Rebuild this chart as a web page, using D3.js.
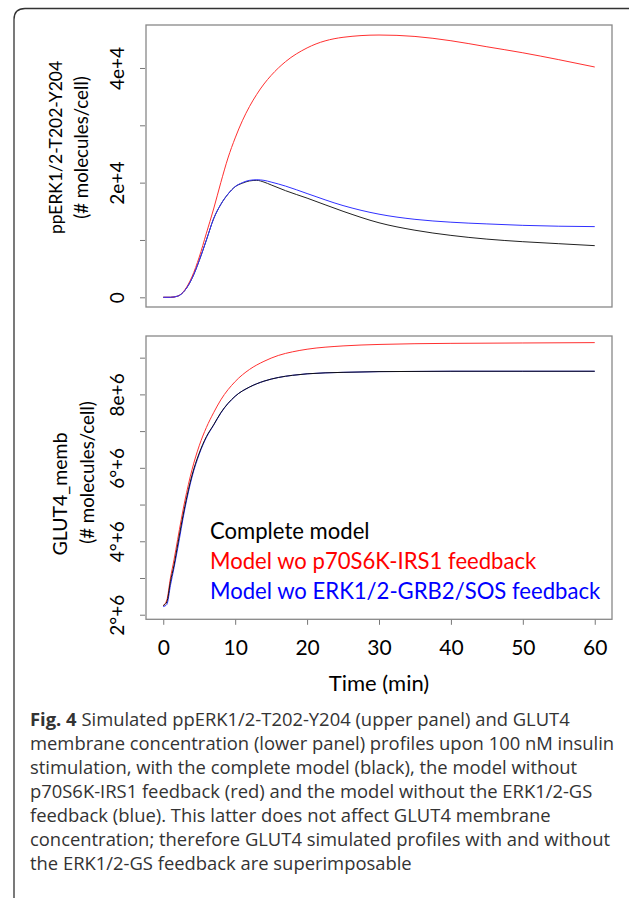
<!DOCTYPE html>
<html>
<head>
<meta charset="utf-8">
<script src="https://cdn.jsdelivr.net/npm/d3@7"></script>
<style>
  body { margin: 0; background: #fff; }
  .chart text { font-family: Lato, "Open Sans", sans-serif; }
  .chart text.caption { font-family: "Open Sans", sans-serif; fill: #333; font-size: 18.4px; }
</style>
</head>
<body>
<div id="root"></div>
<script>
// ---- data ----
const erkTime = [0, 1, 2, 3, 4, 5, 6, 7, 8, 9, 10, 11, 12, 13, 14, 15, 17, 20, 25, 30, 35, 40, 45, 50, 55, 60];
const erkComplete = [0, 0, 200, 1200, 3300, 6400, 10000, 13700, 16200, 18000, 19300, 19900, 20300, 20400, 20100, 19600, 18600, 17300, 15000, 13000, 11700, 10800, 10150, 9700, 9350, 9010];
const erkNoP70 = [0, 0, 200, 1300, 3600, 7000, 11200, 15400, 20000, 24300, 27800, 30800, 33300, 35400, 37200, 38700, 41100, 43500, 45350, 45750, 45500, 44750, 43700, 42650, 41450, 40170];
const erkNoGrb2 = [0, 0, 200, 1200, 3300, 6400, 10000, 13700, 16200, 18000, 19300, 20000, 20400, 20500, 20400, 20100, 19400, 18100, 16000, 14500, 13600, 13100, 12800, 12550, 12400, 12330];

const glutTime = [0, 0.5, 1, 1.5, 2, 3, 4, 5, 6, 7, 8, 10, 12, 14, 16, 18, 20, 25, 30, 40, 50, 60];
const glutComplete = [2.25e6, 2.35e6, 2.9e6, 3.35e6, 3.9e6, 4.95e6, 5.8e6, 6.4e6, 6.85e6, 7.17e6, 7.5e6, 7.95e6, 8.2e6, 8.36e6, 8.46e6, 8.52e6, 8.56e6, 8.6e6, 8.62e6, 8.63e6, 8.63e6, 8.63e6];
const glutNoP70 = [2.25e6, 2.4e6, 3.0e6, 3.5e6, 4.05e6, 5.1e6, 5.95e6, 6.6e6, 7.1e6, 7.5e6, 7.85e6, 8.35e6, 8.68e6, 8.9e6, 9.06e6, 9.16e6, 9.23e6, 9.32e6, 9.36e6, 9.39e6, 9.4e6, 9.41e6];
const glutNoGrb2 = [2.22e6, 2.28e6, 2.8e6, 3.28e6, 3.8e6, 4.88e6, 5.75e6, 6.37e6, 6.83e6, 7.16e6, 7.49e6, 7.95e6, 8.2e6, 8.36e6, 8.46e6, 8.52e6, 8.56e6, 8.6e6, 8.62e6, 8.63e6, 8.63e6, 8.63e6];

const xTicks = [0, 10, 20, 30, 40, 50, 60];
const erkTicks = [0, 10000, 20000, 30000, 40000];
const erkTickLabels = ["0", "", "2e+4", "", "4e+4"];
const glutTicks = [2e6, 3e6, 4e6, 5e6, 6e6, 7e6, 8e6, 9e6];
const glutTickLabels = ["2°+6", "", "4°+6", "", "6°+6", "", "8e+6", ""];

const legendLabels = ["Complete model", "Model wo p70S6K-IRS1 feedback", "Model wo ERK1/2-GRB2/SOS feedback"];
const legendColors = ["#000", "#ff0000", "#0000ff"];

const captionLines = [
    "Simulated ppERK1/2-T202-Y204 (upper panel) and GLUT4",
    "membrane concentration (lower panel) profiles upon 100 nM insulin",
    "stimulation, with the complete model (black), the model without",
    "p70S6K-IRS1 feedback (red) and the model without the ERK1/2-GS",
    "feedback (blue). This latter does not affect GLUT4 membrane",
    "concentration; therefore GLUT4 simulated profiles with and without",
    "the ERK1/2-GS feedback are superimposable"
];

// ---- layout ----
const W = 633, H = 898;
const plotL = 146, plotR = 612;
const top1 = 25, bot1 = 307;
const top2 = 336, bot2 = 619.3;

const x = d3.scaleLinear().domain([-2.4, 62.4]).range([plotL, plotR]);
const yErk = d3.scaleLinear().domain([-1692, 47497]).range([bot1, top1]);
const yGlut = d3.scaleLinear().domain([1.875e6, 9.59e6]).range([bot2, top2]);

const svg = d3.select("#root").append("svg")
    .attr("class", "chart")
    .attr("width", W)
    .attr("height", H);

svg.append("rect").attr("width", W).attr("height", H).attr("fill", "#fff");

// figure frame (open on the right)
svg.append("path")
    .attr("d", "M629,8.5 L25,8.5 Q14,8.5 14,19.5 L14," + H)
    .attr("fill", "none")
    .attr("stroke", "#333")
    .attr("stroke-width", 1.3);

function panel(y, ticks, labels, series, colors) {
    let g = svg.append("g");

    g.append("rect")
        .attr("x", plotL).attr("y", y.range()[1])
        .attr("width", plotR - plotL)
        .attr("height", y.range()[0] - y.range()[1])
        .attr("fill", "none")
        .attr("stroke", "#888")
        .attr("stroke-width", 1.3);

    let yAxis = g.append("g")
        .attr("transform", "translate(" + (plotL - 1) + ",0)")
        .call(d3.axisLeft(y).tickValues(ticks).tickSize(5)
            .tickFormat((d, i) => labels[i]));
    yAxis.select(".domain").remove();
    yAxis.selectAll("line").attr("stroke", "#777");
    yAxis.selectAll("text")
        .attr("transform", "rotate(-90)")
        .attr("x", 0).attr("y", -21).attr("dy", 0)
        .attr("text-anchor", "middle")
        .style("font-size", "19px")
        .attr("fill", "#000");

    let line = d3.line()
        .curve(d3.curveMonotoneX)
        .x(d => x(d[0]))
        .y(d => y(d[1]));

    series.forEach((s, i) => {
        g.append("path")
            .datum(s)
            .attr("d", line)
            .attr("fill", "none")
            .attr("stroke", colors[i])
            .attr("stroke-width", 1);
    });
    return g;
}

const zip = (t, v) => t.map((d, i) => [d, v[i]]);

panel(yErk, erkTicks, erkTickLabels,
    [zip(erkTime, erkComplete), zip(erkTime, erkNoP70), zip(erkTime, erkNoGrb2)],
    ["#222", "#ff3030", "#3030ff"]);

panel(yGlut, glutTicks, glutTickLabels,
    [zip(glutTime, glutNoP70), zip(glutTime, glutNoGrb2), zip(glutTime, glutComplete)],
    ["#ff3030", "#3030ff", "#111"]);

// x axis (lower panel only)
let xAxis = svg.append("g")
    .attr("transform", "translate(0," + (bot2 + 0.5) + ")")
    .call(d3.axisBottom(x).tickValues(xTicks).tickSize(5).tickPadding(15));
xAxis.select(".domain").remove();
xAxis.selectAll("line").attr("stroke", "#777");
xAxis.selectAll("text").style("font-size", "21px").attr("fill", "#000");

svg.append("text")
    .attr("x", x(30)).attr("y", 691)
    .attr("text-anchor", "middle")
    .style("font-size", "22px")
    .text("Time (min)");

// y axis titles
svg.append("text")
    .attr("transform", "translate(62,147.5)rotate(-90)")
    .attr("text-anchor", "middle")
    .style("font-size", "17.5px")
    .text("ppERK1/2-T202-Y204");
svg.append("text")
    .attr("transform", "translate(88,147.5)rotate(-90)")
    .attr("text-anchor", "middle")
    .style("font-size", "18.7px")
    .text("(# molecules/cell)");
svg.append("text")
    .attr("transform", "translate(67,494)rotate(-90)")
    .attr("text-anchor", "middle")
    .style("font-size", "19.5px")
    .text("GLUT4_memb");
svg.append("text")
    .attr("transform", "translate(94,472.5)rotate(-90)")
    .attr("text-anchor", "middle")
    .style("font-size", "18.7px")
    .text("(# molecules/cell)");

// legend
svg.append("g").selectAll("text")
    .data(legendLabels)
    .enter().append("text")
    .attr("x", 210)
    .attr("y", (d, i) => 539 + i * 30)
    .attr("fill", (d, i) => legendColors[i])
    .style("font-size", "22.1px")
    .text(d => d);

// caption
let cap = svg.append("g");
cap.selectAll("text")
    .data(captionLines)
    .enter().append("text")
    .attr("class", "caption")
    .attr("x", 30)
    .attr("y", (d, i) => 726 + i * 24)
    .each(function(d, i) {
        let t = d3.select(this);
        if (i === 0) {
            t.append("tspan").style("font-weight", "bold").text("Fig. 4");
            t.append("tspan").text(" " + d);
        } else {
            t.text(d);
        }
    });
</script>
</body>
</html>
